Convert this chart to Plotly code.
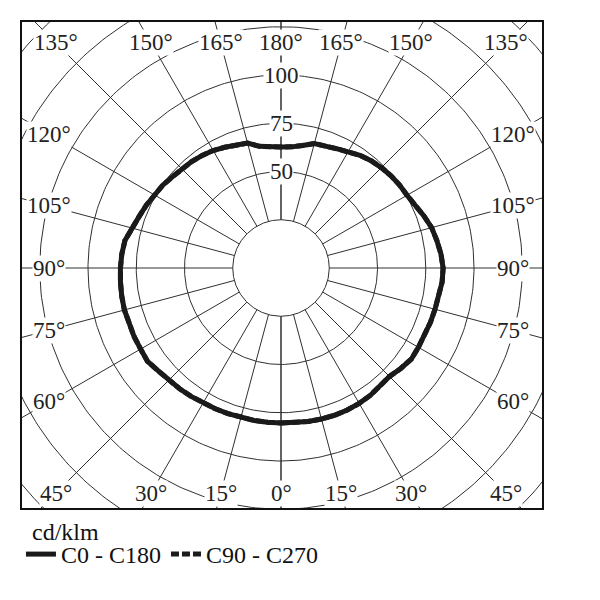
import numpy as np
import plotly.graph_objects as go

# ---------------- data (cd/klm) ----------------
gamma = list(range(0, 181, 5))
# right half of the diagram (C0)
c0 = [80.3, 80.5, 80.8, 81.0, 81.2, 81.2, 81.0, 80.6, 80.0, 79.5,
      81.0, 82.4, 82.2, 82.3, 82.4, 82.6, 83.2, 83.8, 84.0, 83.2,
      82.0, 80.8, 78.8, 76.6, 75.4, 75.0, 74.4, 73.5, 72.6, 71.3,
      69.6, 68.2, 67.2, 66.8, 64.5, 63.0, 62.7]
# left half of the diagram (C180)
c180 = [80.3, 80.2, 80.2, 80.2, 80.3, 80.5, 80.8, 81.2, 81.7, 82.0,
        83.0, 84.4, 84.0, 84.0, 84.0, 84.0, 83.8, 83.5, 83.2, 82.8,
        82.1, 80.0, 78.2, 77.0, 75.6, 74.8, 73.5, 72.6, 72.0, 71.2,
        70.3, 69.0, 68.0, 67.0, 64.0, 62.8, 62.7]
# C90 - C270 (coincides with C0 - C180, drawn underneath)
c90 = c0
c270 = c180

ring_values = [25, 50, 75, 100, 125, 150, 175, 200]
ring_labels = [50, 75, 100]
spoke_angles = list(range(0, 181, 15))
unit_label = "cd/klm"

FONT = "Liberation Serif"
GRID = "#303030"

def to_xy(g, r, side):
    g = np.radians(np.asarray(g, dtype=float))
    r = np.asarray(r, dtype=float)
    return side * r * np.sin(g), -r * np.cos(g)

fig = go.Figure()

# rings
t = np.linspace(0, 2 * np.pi, 361)
for rv in ring_values:
    fig.add_trace(go.Scatter(x=rv * np.cos(t), y=rv * np.sin(t), mode="lines",
                             line=dict(color=GRID, width=1), hoverinfo="skip",
                             showlegend=False))
# spokes (from the 25 ring outwards)
for side in (1, -1):
    for a in spoke_angles:
        xs, ys = to_xy([a, a], [25, 260], side)
        fig.add_trace(go.Scatter(x=xs, y=ys, mode="lines",
                                 line=dict(color=GRID, width=1),
                                 hoverinfo="skip", showlegend=False))

def curve(right, left):
    xr, yr = to_xy(gamma, right, 1)
    xl, yl = to_xy(gamma[::-1], left[::-1], -1)
    return np.concatenate([xr, xl]), np.concatenate([yr, yl])

x2, y2 = curve(c90, c270)
fig.add_trace(go.Scatter(x=x2, y=y2, mode="lines", name="C90 - C270",
                         line=dict(color="#1a1a1a", width=5, dash="8px,3px")))
x1, y1 = curve(c0, c180)
fig.add_trace(go.Scatter(x=x1, y=y1, mode="lines", name="C0 - C180",
                         line=dict(color="#1a1a1a", width=5)))

# page offset of the plot div (browser body margin)
OFF = 8
# scale: 1.93 px per cd/klm, centre at pixel (281, 268) of the screenshot
S = 1.93
L, R, T, B = 22 - OFF, 542 - OFF, 22 - OFF, 508 - OFF
CX, CY = 281 - OFF, 268 - OFF
xr_ = [(L - CX) / S, (R - CX) / S]
yr_ = [(CY - B) / S, (CY - T) / S]
PH = B - T
PW = R - L

# angle labels on an inset rectangle
XI, YI = 120.0, 116.6
ann = []
for side in (1, -1):
    for a in spoke_angles:
        if side == -1 and a in (0, 180):
            continue
        dx = side * np.sin(np.radians(a))
        dy = -np.cos(np.radians(a))
        tt = min(XI / abs(dx) if abs(dx) > 1e-9 else 1e9,
                 YI / abs(dy) if abs(dy) > 1e-9 else 1e9)
        ann.append(dict(x=dx * tt, y=dy * tt, text=f"{a}°", showarrow=False,
                        font=dict(family=FONT, size=23, color="#222"),
                        bgcolor="white", borderpad=0, xanchor="center",
                        yanchor="middle"))
for rv in ring_labels:
    ann.append(dict(x=0, y=rv, text=str(rv), showarrow=False,
                    font=dict(family=FONT, size=23, color="#222"),
                    bgcolor="white", borderpad=0))
# unit caption above legend
ann.append(dict(xref="paper", yref="paper", x=(30 - OFF - L) / PW,
                y=-(532 - 508) / PH, xanchor="left", yanchor="middle",
                text=unit_label, showarrow=False,
                font=dict(family=FONT, size=24, color="#111")))

fig.update_layout(
    width=600, height=600,
    margin=dict(l=L, r=600 - R, t=T, b=600 - B),
    paper_bgcolor="white", plot_bgcolor="white",
    xaxis=dict(range=xr_, showgrid=False, zeroline=False, showticklabels=False,
               ticks="", showline=True, mirror=True, linecolor="#111",
               linewidth=2, fixedrange=True),
    yaxis=dict(range=yr_, showgrid=False, zeroline=False, showticklabels=False,
               ticks="", showline=True, mirror=True, linecolor="#111",
               linewidth=2, fixedrange=True),
    annotations=ann,
    showlegend=True,
    legend=dict(orientation="h", x=-0.002, xanchor="left",
                y=-(532 - 508) / PH, yanchor="top",
                traceorder="reversed",
                font=dict(family=FONT, size=24, color="#111"),
                itemwidth=30, tracegroupgap=0, bgcolor="rgba(0,0,0,0)"),
)

fig.write_html("out.html")
